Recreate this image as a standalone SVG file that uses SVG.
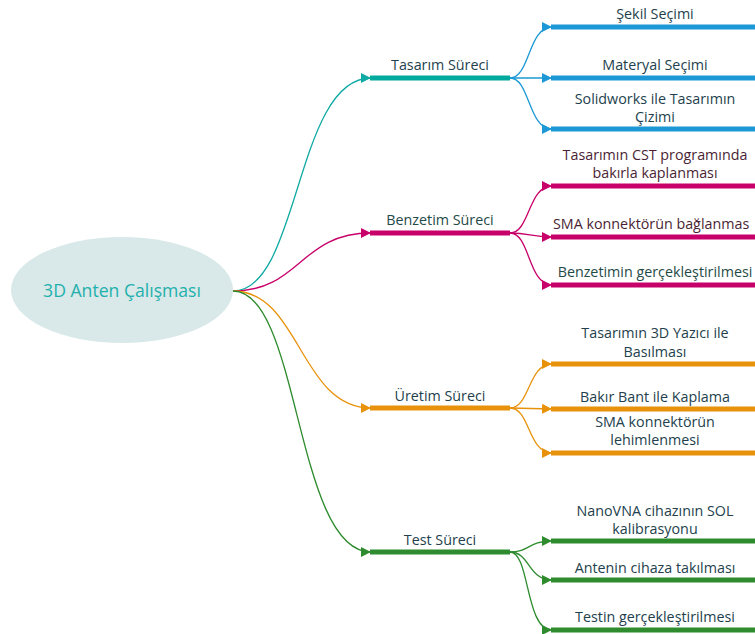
<svg xmlns="http://www.w3.org/2000/svg" width="755" height="634" viewBox="0 0 755 634">
<style>
text{font-family:"Open Sans","Noto Sans","DejaVu Sans",sans-serif;font-size:14.3px;fill:#233f4d;text-anchor:middle}
.root{font-size:17.6px;fill:#1fb0ad}
.c{fill:none;stroke-width:1.3}
.bar{stroke-width:5;fill:none}
.mr{fill:#4a1f35}
.tg{fill:#1f4a48}
</style>
<defs>
<marker id="aT" markerUnits="userSpaceOnUse" markerWidth="11" markerHeight="11" refX="10" refY="5" orient="auto"><path d="M0,0 L10,5 L0,10 z" fill="#10aaa4"/></marker>
<marker id="aB" markerUnits="userSpaceOnUse" markerWidth="11" markerHeight="11" refX="10" refY="5" orient="auto"><path d="M0,0 L10,5 L0,10 z" fill="#1b98d5"/></marker>
<marker id="aM" markerUnits="userSpaceOnUse" markerWidth="11" markerHeight="11" refX="10" refY="5" orient="auto"><path d="M0,0 L10,5 L0,10 z" fill="#c8006a"/></marker>
<marker id="aO" markerUnits="userSpaceOnUse" markerWidth="11" markerHeight="11" refX="10" refY="5" orient="auto"><path d="M0,0 L10,5 L0,10 z" fill="#e8920c"/></marker>
<marker id="aG" markerUnits="userSpaceOnUse" markerWidth="11" markerHeight="11" refX="10" refY="5" orient="auto"><path d="M0,0 L10,5 L0,10 z" fill="#2e8b2e"/></marker>
</defs>
<g id="connectors">
<path class="c" stroke="#10aaa4" marker-end="url(#aT)" d="M233,291 C300,291 295,78 371,78"/>
<path class="c" stroke="#c8006a" marker-end="url(#aM)" d="M233,291 C300,291 300,233 371,233"/>
<path class="c" stroke="#e8920c" marker-end="url(#aO)" d="M233,291 C300,291 300,408 371,408"/>
<path class="c" stroke="#2e8b2e" marker-end="url(#aG)" d="M233,291 C300,291 295,552 371,552"/>
<path class="c" stroke="#1b98d5" marker-end="url(#aB)" d="M510,78 C530,78 528,27 552,27"/>
<path class="c" stroke="#1b98d5" marker-end="url(#aB)" d="M510,78 L552,78"/>
<path class="c" stroke="#1b98d5" marker-end="url(#aB)" d="M510,78 C530,78 528,129 552,129"/>
<path class="c" stroke="#c8006a" marker-end="url(#aM)" d="M510,233 C530,233 528,186 552,186"/>
<path class="c" stroke="#c8006a" marker-end="url(#aM)" d="M510,233 C530,233 530,237 552,237"/>
<path class="c" stroke="#c8006a" marker-end="url(#aM)" d="M510,233 C530,233 528,285 552,285"/>
<path class="c" stroke="#e8920c" marker-end="url(#aO)" d="M510,408 C530,408 528,364 552,364"/>
<path class="c" stroke="#e8920c" marker-end="url(#aO)" d="M510,408 L552,409"/>
<path class="c" stroke="#e8920c" marker-end="url(#aO)" d="M510,408 C530,408 528,453 552,453"/>
<path class="c" stroke="#2e8b2e" marker-end="url(#aG)" d="M510,552 C530,552 528,541 552,541"/>
<path class="c" stroke="#2e8b2e" marker-end="url(#aG)" d="M510,552 C530,552 528,580 552,580"/>
<path class="c" stroke="#2e8b2e" marker-end="url(#aG)" d="M510,552 C530,552 525,630 552,630"/>
</g>
<g id="root">
<ellipse cx="122" cy="290" rx="111" ry="53" fill="#d9e8e8"/>
<text class="root" x="122" y="297">3D Anten Çalışması</text>
</g>
<g id="tasarim">
<line class="bar" stroke="#00a99d" x1="370" y1="78" x2="510" y2="78"/>
<text x="440" y="70">Tasarım Süreci</text>
</g>
<g id="sekil">
<line class="bar" stroke="#1b98d5" x1="551" y1="27" x2="755" y2="27"/>
<text x="655" y="19">Şekil Seçimi</text>
</g>
<g id="materyal">
<line class="bar" stroke="#1b98d5" x1="551" y1="78" x2="755" y2="78"/>
<text x="655" y="70">Materyal Seçimi</text>
</g>
<g id="solidworks">
<line class="bar" stroke="#1b98d5" x1="551" y1="129" x2="755" y2="129"/>
<text x="655" y="104">Solidworks ile Tasarımın</text>
<text x="655" y="122">Çizimi</text>
</g>
<g id="benzetim">
<line class="bar" stroke="#c8006a" x1="370" y1="233" x2="510" y2="233"/>
<text class="tg" x="440" y="225">Benzetim Süreci</text>
</g>
<g id="cst">
<line class="bar" stroke="#c8006a" x1="551" y1="186" x2="755" y2="186"/>
<text class="mr" x="655" y="160">Tasarımın CST programında</text>
<text class="mr" x="655" y="178">bakırla kaplanması</text>
</g>
<g id="sma1">
<line class="bar" stroke="#c8006a" x1="551" y1="237" x2="755" y2="237"/>
<text class="mr" x="553" y="229" style="text-anchor:start">SMA konnektörün bağlanmas</text>
</g>
<g id="benzetimin">
<line class="bar" stroke="#c8006a" x1="551" y1="285" x2="755" y2="285"/>
<text class="tg" x="655" y="277">Benzetimin gerçekleştirilmesi</text>
</g>
<g id="uretim">
<line class="bar" stroke="#e8920c" x1="370" y1="408" x2="510" y2="408"/>
<text x="440" y="401">Üretim Süreci</text>
</g>
<g id="yazici">
<line class="bar" stroke="#e8920c" x1="551" y1="364" x2="755" y2="364"/>
<text x="655" y="338">Tasarımın 3D Yazıcı ile</text>
<text x="655" y="357">Basılması</text>
</g>
<g id="bakir">
<line class="bar" stroke="#e8920c" x1="551" y1="409" x2="755" y2="409"/>
<text x="655" y="402">Bakır Bant ile Kaplama</text>
</g>
<g id="sma2">
<line class="bar" stroke="#e8920c" x1="551" y1="453" x2="755" y2="453"/>
<text x="655" y="427">SMA konnektörün</text>
<text x="655" y="445">lehimlenmesi</text>
</g>
<g id="test">
<line class="bar" stroke="#2e8b2e" x1="370" y1="552" x2="510" y2="552"/>
<text x="440" y="545">Test Süreci</text>
</g>
<g id="nanovna">
<line class="bar" stroke="#2e8b2e" x1="551" y1="541" x2="755" y2="541"/>
<text x="655" y="516">NanoVNA cihazının SOL</text>
<text x="655" y="534">kalibrasyonu</text>
</g>
<g id="antenin">
<line class="bar" stroke="#2e8b2e" x1="551" y1="580" x2="755" y2="580"/>
<text x="655" y="573">Antenin cihaza takılması</text>
</g>
<g id="testin">
<line class="bar" stroke="#2e8b2e" x1="551" y1="630" x2="755" y2="630"/>
<text x="655" y="622">Testin gerçekleştirilmesi</text>
</g>
</svg>
